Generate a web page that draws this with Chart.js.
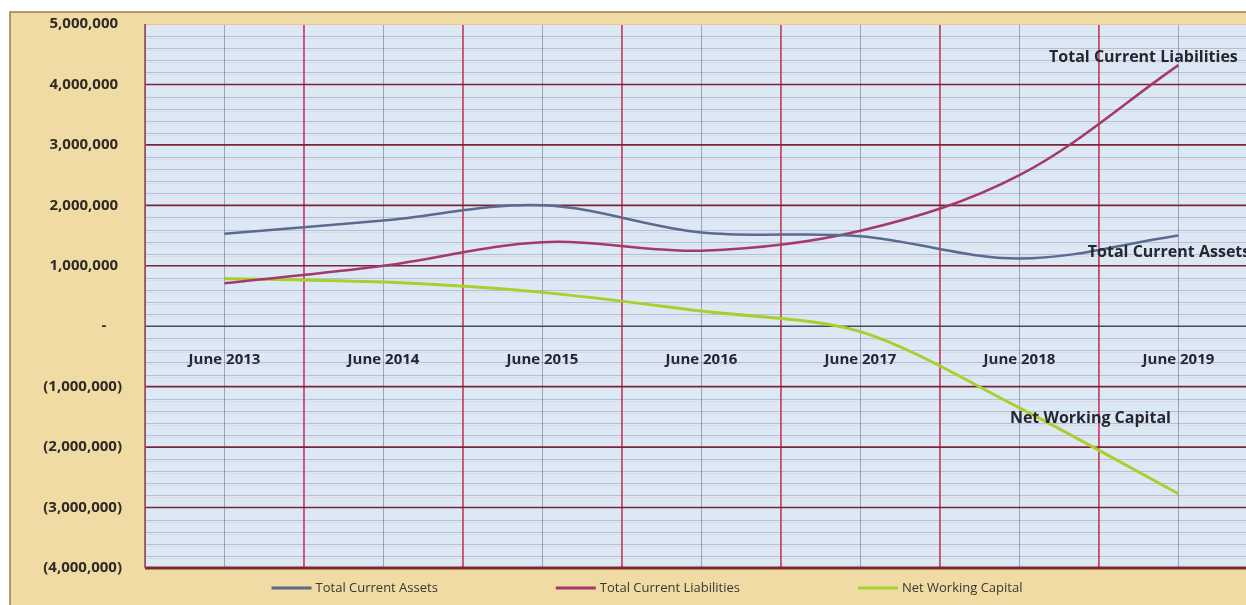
<!doctype html>
<html>
<head>
	<title>Working Capital Chart</title>
	<script src="https://cdn.jsdelivr.net/npm/chart.js@4.4.1/dist/chart.umd.min.js"></script>
	<style>
		body { margin: 0; background: #fff; }
		#wrap { width: 1246px; height: 605px; position: relative; }
	</style>
</head>
<body>
	<div id="wrap"><canvas id="canvas"></canvas></div>
	<script>
		var years = ['June 2013', 'June 2014', 'June 2015', 'June 2016', 'June 2017', 'June 2018', 'June 2019'];
		var currentAssets = [1530000, 1750000, 2000000, 1550000, 1490000, 1120000, 1500000];
		var currentLiabilities = [710000, 1000000, 1390000, 1250000, 1580000, 2500000, 4320000];
		var netWorkingCapital = [790000, 730000, 560000, 250000, -90000, -1350000, -2770000];
		var yTicks = [-4000000, -3000000, -2000000, -1000000, 0, 1000000, 2000000, 3000000, 4000000, 5000000];

		function toPoints(arr) {
			return arr.map(function (v, i) { return { x: i, y: v }; });
		}

		function fmt(v) {
			if (v === 0) return '-    ';
			var s = Math.abs(v).toLocaleString('en-US');
			return v < 0 ? '(' + s + ')' : s + ' ';
		}

		// background, plot fill and ruled-paper grid
		var paperPlugin = {
			id: 'paper',
			beforeDraw: function (chart) {
				var c = chart.ctx, a = chart.chartArea;
				c.save();
				c.fillStyle = '#f1dba4';
				c.fillRect(10, 12, chart.width - 10, chart.height - 12);
				c.strokeStyle = '#9b7b52';
				c.lineWidth = 1.5;
				c.beginPath();
				c.moveTo(10, chart.height); c.lineTo(10, 12); c.lineTo(chart.width, 12);
				c.stroke();
				c.fillStyle = '#dce9f5';
				c.fillRect(a.left, a.top, a.right - a.left, a.bottom - a.top);
				c.restore();
			},
			beforeDatasetsDraw: function (chart) {
				var c = chart.ctx, a = chart.chartArea;
				var xs = chart.scales.x, ys = chart.scales.y;
				c.save();
				var v, y, x, i;
				c.lineWidth = 1;
				for (v = -4000000; v <= 5000000; v += 200000) {
					if (v % 1000000 === 0) continue;
					y = Math.round(ys.getPixelForValue(v)) + 0.5;
					c.strokeStyle = 'rgba(105,125,165,0.38)';
					c.beginPath(); c.moveTo(a.left, y); c.lineTo(a.right, y); c.stroke();
					c.strokeStyle = 'rgba(235,160,190,0.22)';
					c.beginPath(); c.moveTo(a.left, y + 2); c.lineTo(a.right, y + 2); c.stroke();
				}
				for (i = 0; i < years.length; i++) {
					x = Math.round(xs.getPixelForValue(i)) + 0.5;
					c.strokeStyle = 'rgba(85,95,135,0.5)';
					c.beginPath(); c.moveTo(x, a.top); c.lineTo(x, a.bottom); c.stroke();
				}
				c.lineWidth = 1.5;
				for (i = 0; i <= years.length; i++) {
					x = xs.getPixelForValue(i - 0.5);
					c.strokeStyle = '#c42a4c';
					c.beginPath(); c.moveTo(x, a.top); c.lineTo(x, a.bottom); c.stroke();
				}
				yTicks.forEach(function (t) {
					if (t === 5000000) return;
					y = ys.getPixelForValue(t);
					c.strokeStyle = t === -4000000 ? '#7b2b2b' : (t === 0 ? '#4d4760' : '#7e2238');
					c.lineWidth = t === -4000000 ? 3 : 1.6;
					c.beginPath(); c.moveTo(a.left, y); c.lineTo(a.right, y); c.stroke();
				});
				c.strokeStyle = '#e6c2a2';
				c.lineWidth = 1;
				c.beginPath(); c.moveTo(a.left, a.top + 0.5); c.lineTo(a.right, a.top + 0.5); c.stroke();
				c.strokeStyle = '#6b6470';
				c.beginPath(); c.moveTo(a.left + 0.5, a.top); c.lineTo(a.left + 0.5, a.bottom); c.stroke();
				c.restore();
			}
		};

		// series name labels inside the plot
		var labelAnchors = [
			{ ds: 1, x: 5.78, y: 4440000, align: 'center' },
			{ ds: 0, x: 5.43, y: 1220000, align: 'left' },
			{ ds: 2, x: 4.94, y: -1520000, align: 'left' }
		];
		var seriesLabelPlugin = {
			id: 'seriesLabels',
			afterDatasetsDraw: function (chart) {
				var c = chart.ctx, xs = chart.scales.x, ys = chart.scales.y;
				c.save();
				c.font = 'bold 16px "Open Sans"';
				c.fillStyle = '#26262e';
				c.textBaseline = 'middle';
				labelAnchors.forEach(function (l) {
					c.textAlign = l.align;
					c.fillText(chart.data.datasets[l.ds].label, xs.getPixelForValue(l.x), ys.getPixelForValue(l.y));
				});
				c.restore();
			}
		};

		// legend drawn below the plot
		var legendPlugin = {
			id: 'bottomLegend',
			afterDraw: function (chart) {
				var c = chart.ctx, ds = chart.data.datasets;
				var lineW = 40, gap = 118, center = 647, y = 588;
				c.save();
				c.font = '13px "Open Sans"';
				var widths = ds.map(function (d) { return c.measureText(d.label).width; });
				var total = widths.reduce(function (s, w) { return s + w + lineW + 4; }, 0) + gap * (ds.length - 1);
				var x = center - total / 2;
				ds.forEach(function (d, i) {
					c.strokeStyle = d.borderColor;
					c.lineWidth = 3;
					c.beginPath(); c.moveTo(x, y); c.lineTo(x + lineW, y); c.stroke();
					c.fillStyle = '#3a3530';
					c.textBaseline = 'middle';
					c.textAlign = 'left';
					c.fillText(d.label, x + lineW + 4, y);
					x += lineW + 4 + widths[i] + gap;
				});
				c.restore();
			}
		};

		var config = {
			type: 'line',
			data: {
				datasets: [
					{ label: 'Total Current Assets', data: toPoints(currentAssets), borderColor: '#5b6a8f', borderWidth: 2.5, pointRadius: 0, tension: 0.35, fill: false },
					{ label: 'Total Current Liabilities', data: toPoints(currentLiabilities), borderColor: '#a3396c', borderWidth: 2.5, pointRadius: 0, tension: 0.35, fill: false },
					{ label: 'Net Working Capital', data: toPoints(netWorkingCapital), borderColor: '#aacf2c', borderWidth: 3, pointRadius: 0, tension: 0.3, fill: false }
				]
			},
			options: {
				responsive: true,
				maintainAspectRatio: false,
				animation: false,
				layout: { padding: { top: 24, bottom: 37, left: 0, right: 0 } },
				plugins: { legend: { display: false }, tooltip: { enabled: false } },
				scales: {
					x: {
						type: 'linear',
						min: -0.5,
						max: 6.425,
						position: { y: 0 },
						grid: { display: false },
						border: { display: false },
						afterBuildTicks: function (scale) {
							scale.ticks = years.map(function (y, i) { return { value: i }; });
						},
						ticks: {
							padding: 17,
							maxRotation: 0,
							color: '#23232e',
							font: { family: 'Open Sans', size: 15, weight: 'bold' },
							callback: function (v) { return years[v]; }
						}
					},
					y: {
						min: -4000000,
						max: 5000000,
						grid: { display: false },
						border: { display: false },
						afterFit: function (scale) { scale.width = 145; },
						afterBuildTicks: function (scale) {
							scale.ticks = yTicks.map(function (t) { return { value: t }; });
						},
						ticks: {
							padding: 15,
							color: '#2e2a26',
							font: { family: 'Open Sans', size: 15, weight: 'bold' },
							callback: function (v) { return fmt(v); }
						}
					}
				}
			},
			plugins: [paperPlugin, seriesLabelPlugin, legendPlugin]
		};

		window.onload = function () {
			var ctx = document.getElementById('canvas').getContext('2d');
			window.myLine = new Chart(ctx, config);
		};
	</script>
</body>
</html>
